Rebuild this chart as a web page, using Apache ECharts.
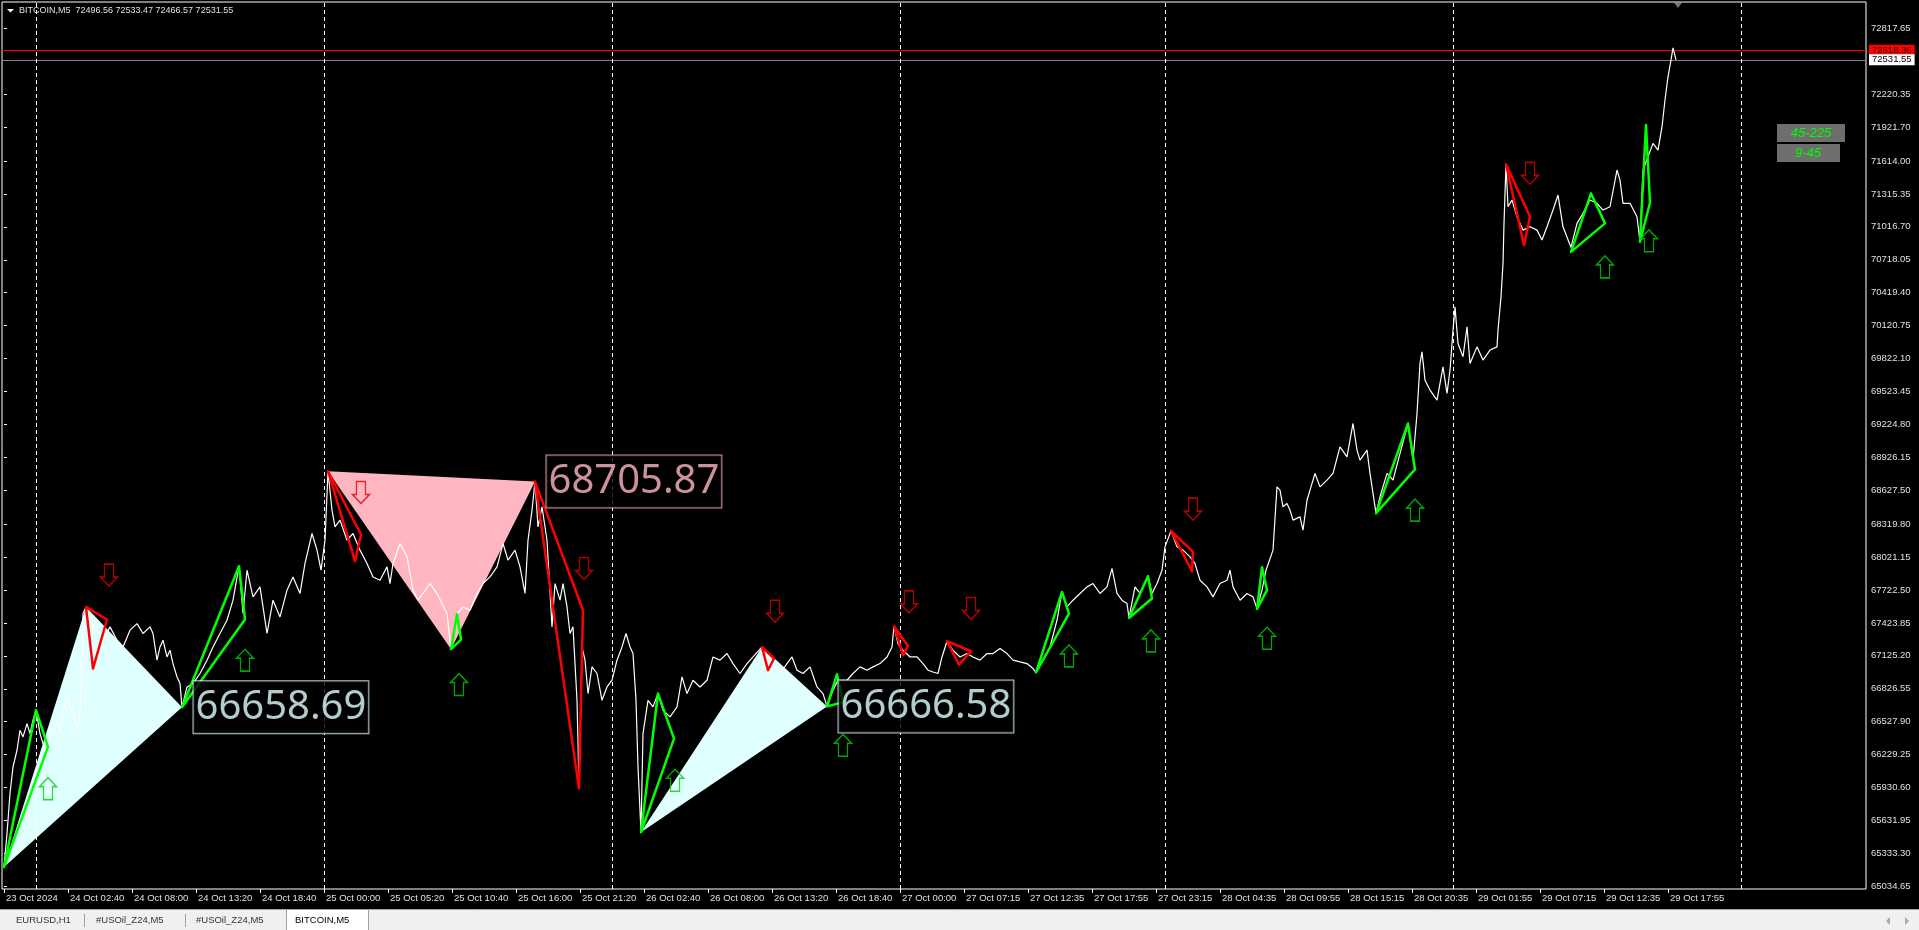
<!DOCTYPE html>
<html><head><meta charset="utf-8">
<script src="https://cdn.jsdelivr.net/npm/echarts@6/dist/echarts.min.js"></script>
<style>html,body{margin:0;padding:0;background:#000;overflow:hidden}#c{width:1919px;height:930px}</style>
</head><body><div id="c"></div>
<script>
// ---------------- DATA ----------------
const symbolName = 'BITCOIN,M5';
const ohlc = [72496.56, 72533.47, 72466.57, 72531.55];
const LABEL_STEP = 64; // bars between time labels
const timeLabels = ['23 Oct 2024','24 Oct 02:40','24 Oct 08:00','24 Oct 13:20','24 Oct 18:40','25 Oct 00:00',
  '25 Oct 05:20','25 Oct 10:40','25 Oct 16:00','25 Oct 21:20','26 Oct 02:40','26 Oct 08:00','26 Oct 13:20',
  '26 Oct 18:40','27 Oct 00:00','27 Oct 07:15','27 Oct 12:35','27 Oct 17:55','27 Oct 23:15','28 Oct 04:35',
  '28 Oct 09:55','28 Oct 15:15','28 Oct 20:35','29 Oct 01:55','29 Oct 07:15','29 Oct 12:35','29 Oct 17:55'];
const priceTicks = [72817.65,72220.35,71921.70,71614.00,71315.35,71016.70,70718.05,70419.40,70120.75,69822.10,
  69523.45,69224.80,68926.15,68627.50,68319.80,68021.15,67722.50,67423.85,67125.20,66826.55,66527.90,66229.25,
  65930.60,65631.95,65333.30,65034.65];
const askPrice = 72618.36;
const lastPrice = 72531.55;
const daySeparators = [32, 320, 608, 896, 1161, 1449, 1737];
const chartShiftBar = 1674;
// [bar index, close]
const closePrices = [
 [0,65210],[3,65513],[6,65876],[9,66117],[13,66269],[16,66450],[19,66390],[23,66511],[26,66420],[29,66541],[32,66632],[36,66420],[39,66329],[43,66239],[46,66480],[49,66420],[53,66541],[56,66450],[59,66632],[63,66752],[66,66662],[69,66602],[73,66450],[76,66602],[78,67146],[79,67509],[82,67569],[86,67448],[93,67358],[99,67267],[106,67388],[113,67267],[119,67206],[126,67358],[133,67418],[139,67328],[146,67388],[149,67328],[153,67086],[156,67206],[159,67267],[163,67115],[166,67176],[169,67055],[173,66934],[176,66874],[178,66658.69],[183,66843],[189,66874],[196,66965],[203,67086],[209,67206],[216,67328],[223,67448],[229,67630],[235,67938],[239,67509],[243,67902],[249,67660],[256,67751],[263,67328],[269,67630],[276,67478],[283,67721],[289,67841],[296,67691],[301,67963],[308,68235],[313,68084],[317,67902],[321,68174],[324,68800],[328,68447],[331,68295],[336,68356],[343,68174],[349,68235],[356,68084],[363,67963],[369,67841],[376,67811],[383,67932],[386,67781],[389,67963],[396,68144],[403,68023],[409,67721],[414,67630],
 [426,67781],[433,67691],[443,67509],[447,67186],[453,67503],[459,67569],[466,67539],[473,67691],[479,67781],[486,67841],[493,67932],[499,68144],[504,67993],[511,68084],[516,67932],[521,67691],[524,68174],[528,68447],[531,68705.87],[534,68295],[538,68477],[543,68174],[548,67388],[551,67781],[556,67630],[559,67781],[563,67569],[566,67328],[569,67388],[573,66722],[575,65942],[578,67206],[581,67086],[584,66783],[588,67025],[593,66965],[598,66722],[603,66843],[608,66904],[613,67086],[618,67206],[622,67328],[626,67206],[629,67146],[632,66722],[634,66117],[637,65525],[639,66420],[644,66722],[649,66662],[654,66783],[659,66632],[666,66571],[673,66662],[678,66934],[683,66783],[689,66904],[696,66843],[703,66904],[709,67115],[716,67086],[723,67146],[729,67055],[736,66965],[743,67055],[749,67115],[758,67206],[763,67086],[769,67055],[776,66965],[783,67055],[788,67115],[793,66995],[799,66965],[806,67025],[813,66843],[819,66783],[823,66666.58],[829,66813],[834,66904],
 [843,66904],[849,66965],[856,67025],[863,66995],[869,67025],[876,67055],[883,67115],[888,67206],[890,67394],[894,67237],[899,67176],[906,67115],[913,67115],[919,67055],[924,66995],[929,66979],[934,66965],[938,67115],[943,67258],[949,67176],[956,67115],[963,67146],[969,67115],[976,67086],[983,67146],[989,67146],[996,67192],[1003,67146],[1009,67086],[1016,67070],[1023,67055],[1029,67010],[1032,66974],[1039,67086],[1046,67206],[1053,67448],[1058,67705],[1063,67569],[1069,67630],[1076,67691],[1083,67751],[1089,67781],[1096,67691],[1103,67751],[1108,67918],[1113,67691],[1118,67630],[1123,67600],[1125,67469],[1131,67751],[1136,67691],[1144,67848],[1148,67691],[1153,67781],[1158,67902],[1161,68114],[1167,68259],[1173,68114],[1179,68084],[1186,68023],[1191,67963],[1196,67811],[1203,67751],[1209,67660],[1216,67781],[1223,67811],[1226,67902],[1229,67751],[1236,67630],[1243,67691],[1249,67660],[1253,67551],
 [1258,67721],[1262,67902],[1269,68084],[1273,68658],[1276,68628],[1279,68477],[1283,68507],[1286,68447],[1289,68356],[1296,68386],[1299,68265],[1303,68537],[1306,68628],[1311,68780],[1316,68658],[1323,68719],[1329,68780],[1336,69021],[1343,68930],[1349,69233],[1353,68991],[1356,68900],[1363,68991],[1366,68780],[1372,68417],[1376,68567],[1383,68780],[1389,68719],[1396,68961],[1404,69233],[1409,68900],[1413,69324],[1416,69778],[1418,69883],[1421,69626],[1426,69536],[1433,69445],[1439,69747],[1443,69506],[1446,69717],[1449,70080],[1451,70291],[1454,69959],[1459,69838],[1463,70110],[1466,69778],[1473,69928],[1479,69808],[1486,69899],[1493,69928],[1494,70080],[1497,70382],[1499,70685],[1500,71048],[1502,71584],[1504,71199],[1508,71260],[1513,71108],[1519,70987],[1526,71017],[1533,70987],[1538,70897],[1543,71017],[1549,71169],[1554,71305],[1559,71017],[1567,70830],[1573,71048],[1579,71139],[1586,71260],[1593,71230],[1599,71169],[1606,71199],[1613,71532],[1616,71441],[1619,71230],[1626,71230],[1633,71108],[1636,70881],[1639,71532],[1644,71653],[1649,71774],[1654,71713],[1658,71925],[1661,72167],[1664,72378],[1667,72530],[1669,72640],[1672,72531.55]
];
const cyanTriangles = [
 [[0,65210],[82,67569],[178,66658.69]],
 [[637,65525],[758,67206],[823,66666.58]]
];
const pinkTriangles = [
 [[324,68800],[447,67186],[531,68705.87]]
];
const greenZigzags = [
 [[0,65210],[32,66632],[44,66299]],
 [[178,66658.69],[235,67938],[241,67455]],
 [[447,67186],[453,67503],[457,67273]],
 [[637,65525],[654,66783],[670,66375]],
 [[823,66666.58],[833,66958],[839,66704]],
 [[1032,66974],[1058,67705],[1065,67509]],
 [[1125,67469],[1144,67848],[1148,67645]],
 [[1253,67551],[1258,67929],[1263,67721]],
 [[1372,68417],[1404,69233],[1411,68816]],
 [[1567,70790],[1587,71320],[1601,71048]],
 [[1636,70881],[1642,71940],[1646,71235]]
];
const redZigzags = [
 [[82,67569],[103,67455],[89,67010]],
 [[324,68800],[357,68226],[351,67984]],
 [[531,68705.87],[579,67539],[575,65921]],
 [[758,67206],[770,67101],[764,66995]],
 [[890,67394],[904,67215],[899,67131]],
 [[943,67258],[967,67167],[955,67046]],
 [[1167,68259],[1189,68068],[1188,67893]],
 [[1502,71584],[1526,71108],[1520,70851]]
];
const upArrows = [[44,65921],[241,67086],[455,66865],[671,65997],[839,66314],[1065,67125],[1147,67261],[1263,67285],[1411,68447],[1601,70654],[1645,70890]];
const downArrows = [[105,67857],[357,68607],[580,67918],[771,67530],[905,67615],[967,67555],[1189,68456],[1526,71502]];
const cyanLabels = [[178,66658.69],[823,66666.58]];
const pinkLabels = [[531,68705.87]];
const tabs = ['EURUSD,H1','#USOil_Z24,M5','#USOil_Z24,M5','BITCOIN,M5'];
const periodLabels = ['45-225','9-45'];

// ---------------- CHART ----------------
const X_MIN = -2, X_MAX = 1862, Y_MIN = 65010.2, Y_MAX = 73056.3;
const AXIS_FONT = 'Liberation Sans';
const tickBars = timeLabels.map((_, i) => i * LABEL_STEP);

function triSeries(tris, fill, stroke, lw, z) {
  return {
    type: 'custom', z: z, silent: true, clip: true,
    data: tris.map(t => [t[0][0], t[0][1], t[1][0], t[1][1], t[2][0], t[2][1]]),
    encode: { x: [0, 2, 4], y: [1, 3, 5] },
    renderItem: (p, api) => ({
      type: 'polygon',
      shape: { points: [0, 1, 2].map(k => api.coord([api.value(2 * k), api.value(2 * k + 1)])) },
      style: { fill: fill, stroke: stroke, lineWidth: lw, lineJoin: 'round' }
    })
  };
}
function labelSeries(pts, color) {
  return {
    type: 'scatter', z: 20, symbolSize: 1, silent: true, clip: false,
    itemStyle: { color: 'rgba(0,0,0,0)' },
    data: pts,
    label: { show: true, position: 'right', distance: 11,
      formatter: p => p.value[1].toFixed(2),
      color: color, fontFamily: 'Noto Sans', fontSize: 40, lineHeight: 40,
      padding: [6, 2, 6, 2], borderColor: color, borderWidth: 1, backgroundColor: '#000' }
  };
}
const downPath = 'path://M4,0L13,0L13,13L17,13L8.5,22L0,13L4,13Z';
const upPath = 'path://M8.5,0L17,9L13,9L13,22L4,22L4,9L0,9Z';

const option = {
  animation: false,
  backgroundColor: '#000',
  grid: { left: 2, right: 53, top: 2, bottom: 41, show: true, borderColor: '#ffffff', borderWidth: 1, backgroundColor: '#000' },
  xAxis: {
    type: 'value', min: X_MIN, max: X_MAX,
    splitLine: { show: false }, axisLine: { show: false },
    axisTick: { show: true, length: 4, lineStyle: { color: '#ffffff' }, customValues: tickBars },
    axisLabel: { customValues: tickBars, formatter: v => timeLabels[Math.round(v / LABEL_STEP)] || '',
      align: 'left', color: '#E0E0E0', fontSize: 9.5, fontFamily: AXIS_FONT, margin: 4, padding: [0, 0, 0, 2] }
  },
  yAxis: {
    type: 'value', position: 'right', min: Y_MIN, max: Y_MAX,
    splitLine: { show: false }, axisLine: { show: false },
    axisTick: { show: true, length: 3, lineStyle: { color: '#ffffff' }, customValues: priceTicks },
    axisLabel: { customValues: priceTicks, formatter: v => v.toFixed(2), color: '#E0E0E0', fontSize: 9.5, fontFamily: AXIS_FONT, margin: 5 }
  },
  series: [
    triSeries(cyanTriangles, '#E0FFFF', 'none', 0, 1),
    triSeries(pinkTriangles, '#FFB6C1', 'none', 0, 1),
    {
      type: 'line', z: 5, data: closePrices, showSymbol: false, silent: true,
      lineStyle: { color: '#ffffff', width: 1.2 },
      markLine: {
        silent: true, symbol: ['none', 'none'], animation: false,
        data: [
          { yAxis: askPrice, lineStyle: { color: '#FF0000', type: 'solid', width: 1 },
            label: { show: true, position: 'end', distance: 3, formatter: () => askPrice.toFixed(2), color: '#200000',
              backgroundColor: '#FF0000', padding: [1, 3, 0, 3], fontSize: 9.5, fontFamily: AXIS_FONT } },
          { yAxis: lastPrice, lineStyle: { color: '#7C8592', type: 'solid', width: 1 },
            label: { show: true, position: 'end', distance: 3, formatter: () => lastPrice.toFixed(2), color: '#000',
              backgroundColor: '#ffffff', padding: [1, 3, 0, 3], fontSize: 9.5, fontFamily: AXIS_FONT } }
        ]
      }
    },
    triSeries(greenZigzags, 'none', '#00FF00', 2.5, 8),
    triSeries(redZigzags, 'none', '#FF0000', 2.5, 8),
    { type: 'scatter', z: 12, symbol: upPath, symbolSize: [17, 22], silent: true,
      itemStyle: { color: 'rgba(0,0,0,0)', borderColor: '#00D000', borderWidth: 1.4 }, data: upArrows },
    { type: 'scatter', z: 12, symbol: downPath, symbolSize: [17, 22], silent: true,
      itemStyle: { color: 'rgba(0,0,0,0)', borderColor: '#E00000', borderWidth: 1.4 }, data: downArrows },
    labelSeries(cyanLabels, '#E0FFFF'),
    Object.assign(labelSeries(pinkLabels, '#FFB6C1'), {
      markLine: { silent: true, symbol: ['none', 'none'], animation: false, label: { show: false },
        lineStyle: { color: '#ffffff', type: [4, 3], width: 1 },
        data: daySeparators.map(b => ({ xAxis: b })) }
    }),
    { type: 'scatter', z: 30, symbol: 'triangle', symbolRotate: 180, symbolSize: [9, 6], symbolOffset: [0, 3],
      silent: true, clip: false, itemStyle: { color: '#8A94A0' }, data: [[chartShiftBar, Y_MAX]] }
  ],
  graphic: [
    { type: 'polygon', shape: { points: [[7, 9], [14, 9], [10.5, 12.5]] }, style: { fill: '#ffffff' }, silent: true },
    { type: 'text', x: 19, y: 6, silent: true,
      style: { text: symbolName + '  ' + ohlc.map(v => v.toFixed(2)).join(' '), fill: '#E0E0E0', font: '9px "Liberation Sans"' } },
    { type: 'rect', shape: { x: 1777, y: 124, width: 68, height: 18 }, style: { fill: '#6E6E6E' }, silent: true },
    { type: 'text', x: 1811, y: 133, silent: true, style: { text: periodLabels[0], fill: '#00FF00', font: 'italic 13px "Liberation Sans"', align: 'center', verticalAlign: 'middle' } },
    { type: 'rect', shape: { x: 1777, y: 144, width: 63, height: 18 }, style: { fill: '#6E6E6E' }, silent: true },
    { type: 'text', x: 1808, y: 153, silent: true, style: { text: periodLabels[1], fill: '#00FF00', font: 'italic 13px "Liberation Sans"', align: 'center', verticalAlign: 'middle' } },
    { type: 'rect', shape: { x: 0, y: 909, width: 1919, height: 21 }, style: { fill: '#F0F0F0' }, silent: true },
    { type: 'line', shape: { x1: 0, y1: 909.5, x2: 1919, y2: 909.5 }, style: { stroke: '#A0A0A0', lineWidth: 1 }, silent: true },
    { type: 'rect', shape: { x: 286.5, y: 909.5, width: 82, height: 21 }, style: { fill: '#ffffff', stroke: '#A0A0A0', lineWidth: 1 }, silent: true },
    { type: 'line', shape: { x1: 84.5, y1: 914, x2: 84.5, y2: 927 }, style: { stroke: '#A0A0A0', lineWidth: 1 }, silent: true },
    { type: 'line', shape: { x1: 185.5, y1: 914, x2: 185.5, y2: 927 }, style: { stroke: '#A0A0A0', lineWidth: 1 }, silent: true },
    { type: 'text', x: 16, y: 920, silent: true, style: { text: tabs[0], fill: '#333', font: '9.5px "Liberation Sans"', verticalAlign: 'middle' } },
    { type: 'text', x: 96, y: 920, silent: true, style: { text: tabs[1], fill: '#333', font: '9.5px "Liberation Sans"', verticalAlign: 'middle' } },
    { type: 'text', x: 196, y: 920, silent: true, style: { text: tabs[2], fill: '#333', font: '9.5px "Liberation Sans"', verticalAlign: 'middle' } },
    { type: 'text', x: 295, y: 920, silent: true, style: { text: tabs[3], fill: '#000', font: '9.5px "Liberation Sans"', verticalAlign: 'middle' } },
    { type: 'polygon', shape: { points: [[1890, 917], [1890, 925], [1886, 921]] }, style: { fill: '#A8A8A8' }, silent: true },
    { type: 'polygon', shape: { points: [[1905, 917], [1905, 925], [1909, 921]] }, style: { fill: '#A8A8A8' }, silent: true }
  ]
};
const chart = echarts.init(document.getElementById('c'), null, { renderer: 'canvas' });
chart.setOption(option);
</script>
</body></html>
